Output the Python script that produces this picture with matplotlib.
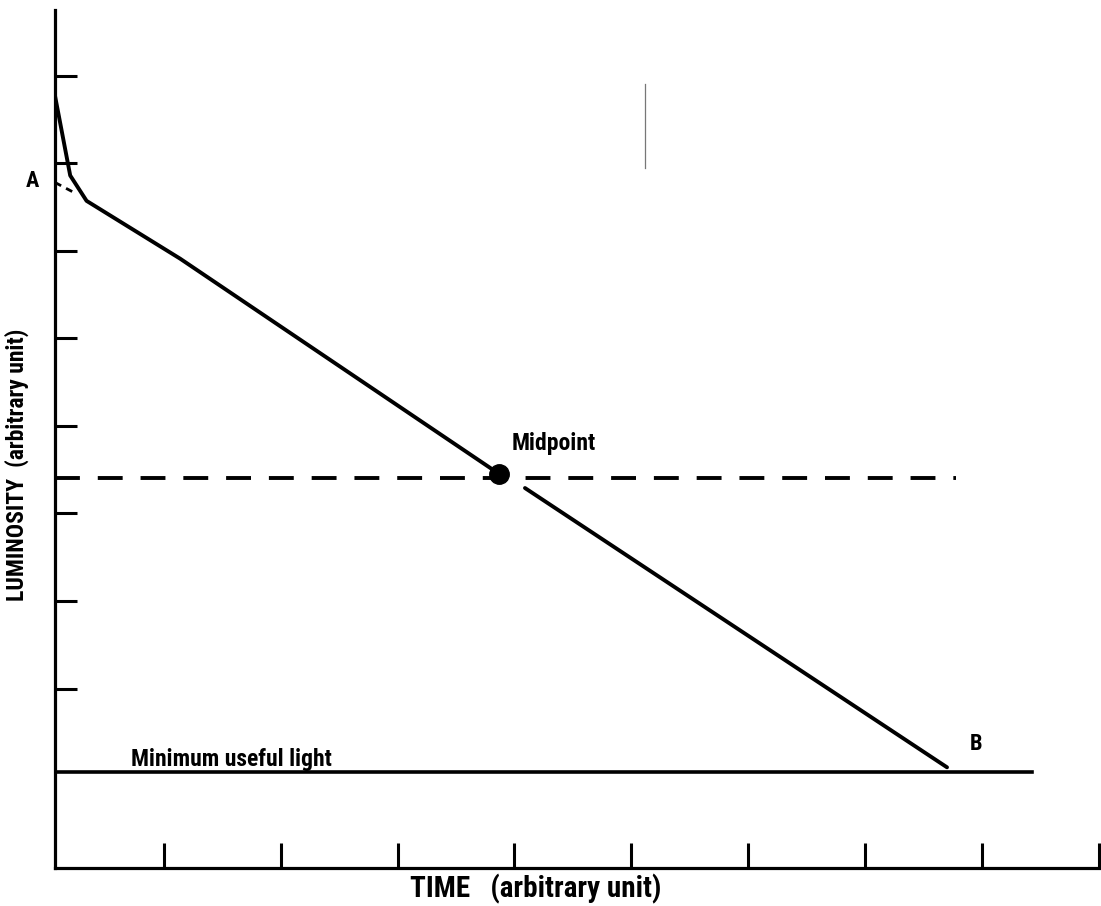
import matplotlib
matplotlib.use("Agg")
import matplotlib.pyplot as plt

plt.rcParams['font.family'] = ['Liberation Sans Narrow', 'Roboto Condensed', 'DejaVu Sans Condensed',
                               'Liberation Sans', 'DejaVu Sans']

# Data (arbitrary units)
curve_upper_x = [0.07, 0.20, 0.34, 1.14, 3.87]
curve_upper_y = [8.77, 7.86, 7.57, 6.91, 4.45]
curve_lower_x = [4.09, 7.70]
curve_lower_y = [4.29, 1.10]
extrap_x = [0.07, 0.24]
extrap_y = [7.78, 7.66]
midpoint_x = 3.87
midpoint_y = 4.45
mid_level = 4.40
mid_line_x = [0.07, 7.78]
min_light = 1.05
min_line_x = [0.07, 8.43]
x_ticks = [1, 2, 3, 4, 5, 6, 7, 8, 9]
y_ticks = [2, 3, 4, 5, 6, 7, 8, 9]

W, H = 1101, 906
fig = plt.figure(figsize=(W / 100, H / 100), dpi=100)
ax = fig.add_axes([55 / W, 38 / H, (1099 - 55) / W, (868 - 10) / H])
ax.set_xlim(0.07, 9.0)
ax.set_ylim(-0.05, 9.75)

for s in ['top', 'right']:
    ax.spines[s].set_visible(False)
for s in ['left', 'bottom']:
    ax.spines[s].set_linewidth(2.3)
ax.set_xticks(x_ticks)
ax.set_yticks(y_ticks)
ax.set_xticklabels([])
ax.set_yticklabels([])
ax.tick_params(axis='x', direction='in', length=18, width=2.2)
ax.tick_params(axis='y', direction='in', length=16, width=2.2)

lw = 2.8
ax.plot(curve_upper_x, curve_upper_y, color='black', lw=lw, solid_capstyle='round', solid_joinstyle='round')
ax.plot(curve_lower_x, curve_lower_y, color='black', lw=lw, solid_capstyle='round')
ax.plot(extrap_x, extrap_y, color='black', lw=2.0, dashes=(2.5, 2.0))
ax.plot(mid_line_x, [mid_level, mid_level], color='black', lw=2.8, dashes=(6.4, 4.6))
ax.plot(min_line_x, [min_light, min_light], color='black', lw=2.6)
ax.plot([midpoint_x], [midpoint_y], 'o', color='black', markersize=14, zorder=5)

# scanning mark
ax.plot([5.12, 5.12], [7.95, 8.9], color='#777777', lw=0.9)

tf = dict(fontweight='bold', color='black')
ax.text(4.34, 4.80, 'Midpoint', fontsize=17, ha='center', va='center', **tf)
ax.text(-0.12, 7.80, 'A', fontsize=16, ha='center', va='center', clip_on=False, **tf)
ax.text(7.95, 1.37, 'B', fontsize=16, ha='center', va='center', **tf)
ax.text(0.72, 1.19, 'Minimum useful light', fontsize=17, ha='left', va='center', **tf)

fig.text(536 / W, 1 - 889 / H, 'TIME   (arbitrary unit)', fontsize=21, ha='center', va='center', **tf)
fig.text(17 / W, 1 - 465 / H, 'LUMINOSITY  (arbitrary unit)', fontsize=17, rotation=90,
         ha='center', va='center', **tf)

fig.savefig('out.png', dpi=100)
